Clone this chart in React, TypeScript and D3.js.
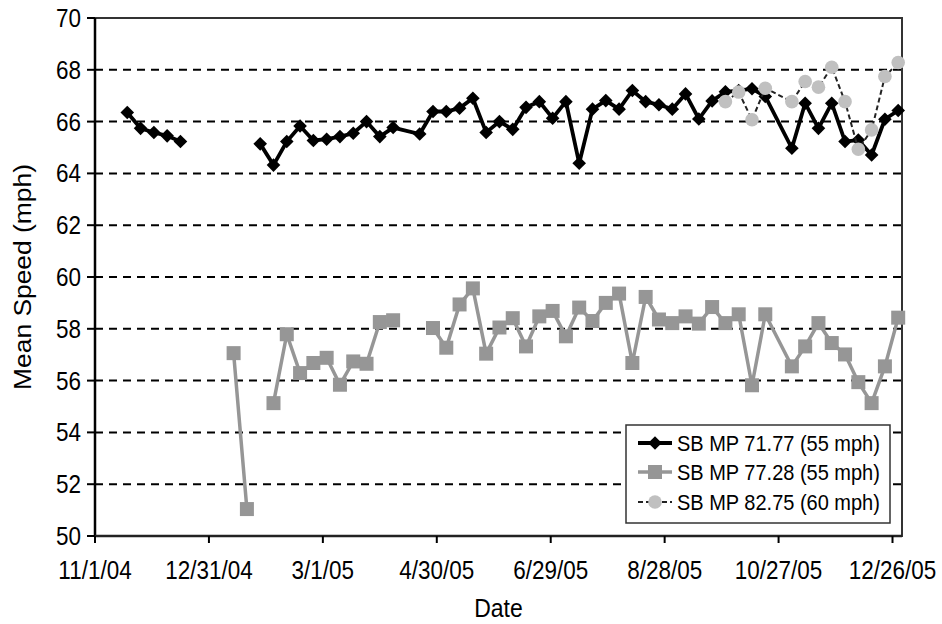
import React from "react";
import * as d3 from "d3";

// Weekly observation dates (rows with at least one reading)
const dates = [
  "11/18/04", "11/25/04", "12/2/04", "12/9/04", "12/16/04",
  "1/13/05", "1/20/05", "1/27/05", "2/3/05", "2/10/05", "2/17/05", "2/24/05",
  "3/3/05", "3/10/05", "3/17/05", "3/24/05", "3/31/05", "4/7/05",
  "4/21/05", "4/28/05", "5/5/05", "5/12/05", "5/19/05", "5/26/05",
  "6/2/05", "6/9/05", "6/16/05", "6/23/05", "6/30/05", "7/7/05", "7/14/05",
  "7/21/05", "7/28/05", "8/4/05", "8/11/05", "8/18/05", "8/25/05", "9/1/05",
  "9/8/05", "9/15/05", "9/22/05", "9/29/05", "10/6/05", "10/13/05", "10/20/05",
  "11/3/05", "11/10/05", "11/17/05", "11/24/05", "12/1/05", "12/8/05",
  "12/15/05", "12/22/05", "12/29/05",
];

// Mean speed (mph) per date; null = no reading (line is broken there)
const mp7177 = [
  66.35, 65.74, 65.58, 65.45, 65.23,
  null, null, 65.14, 64.32, 65.23, 65.83, 65.27,
  65.32, 65.42, 65.55, 66.0, 65.42, 65.77,
  65.52, 66.39, 66.39, 66.52, 66.9, 65.58,
  66.0, 65.7, 66.55, 66.77, 66.13, 66.77, 64.39,
  66.48, 66.81, 66.48, 67.2, 66.77, 66.65, 66.48,
  67.07, 66.1, 66.8, 67.15, 67.2, 67.27, 66.97,
  64.97, 66.71, 65.74, 66.71, 65.23, 65.29,
  64.71, 66.09, 66.43,
];

const mp7728 = [
  null, null, null, null, null,
  57.06, 51.04, null, 55.13, 57.79, 56.29, 56.68,
  56.88, 55.84, 56.74, 56.65, 58.26, 58.33,
  null, 58.03, 57.27, 58.94, 59.56, 57.04,
  58.05, 58.41, 57.32, 58.48, 58.69, 57.71, 58.82,
  58.3, 59.0, 59.36, 56.68, 59.23, 58.36, 58.22,
  58.48, 58.2, 58.84, 58.22, 58.56, 55.82, 58.56,
  56.55, 57.32, 58.22, 57.45, 57.01, 55.94,
  55.13, 56.55, 58.43,
];

const mp8275 = [
  null, null, null, null, null,
  null, null, null, null, null, null, null,
  null, null, null, null, null, null,
  null, null, null, null, null, null,
  null, null, null, null, null, null, null,
  null, null, null, null, null, null, null,
  null, null, null, 66.77, 67.14, 66.07, 67.29,
  66.77, 67.55, 67.33, 68.1, 66.77, 64.93,
  65.68, 67.74, 68.28,
];

const seriesNames = [
  "SB MP 71.77 (55 mph)",
  "SB MP 77.28 (55 mph)",
  "SB MP 82.75 (60 mph)",
];

const xTickLabels = [
  "11/1/04", "12/31/04", "3/1/05", "4/30/05",
  "6/29/05", "8/28/05", "10/27/05", "12/26/05",
];
const yTicks = [50, 52, 54, 56, 58, 60, 62, 64, 66, 68, 70];

const W = 942;
const H = 624;
const margin = { left: 95, right: 40, top: 18, bottom: 88 };
const FONT = "'Liberation Sans', Arial, Helvetica, sans-serif";

const parse = d3.timeParse("%m/%d/%y");

type Pt = { date: Date; v: number | null };

function toPoints(values: (number | null)[]): Pt[] {
  return dates.map((s, i) => ({ date: parse(s) as Date, v: values[i] }));
}

const x = d3
  .scaleTime()
  .domain([parse("11/1/04") as Date, parse("12/31/05") as Date])
  .range([margin.left, W - margin.right]);
const y = d3
  .scaleLinear()
  .domain([50, 70])
  .range([H - margin.bottom, margin.top]);

const line = d3
  .line<Pt>()
  .defined((d) => d.v !== null)
  .x((d) => x(d.date))
  .y((d) => y(d.v as number));

function Diamond({ cx, cy, r, fill }: { cx: number; cy: number; r: number; fill: string }) {
  return (
    <path
      d={`M${cx},${cy - r}L${cx + r},${cy}L${cx},${cy + r}L${cx - r},${cy}Z`}
      fill={fill}
    />
  );
}

function Square({ cx, cy, s, fill }: { cx: number; cy: number; s: number; fill: string }) {
  return <rect x={cx - s / 2} y={cy - s / 2} width={s} height={s} fill={fill} />;
}

export default function App() {
  const s1 = toPoints(mp7177);
  const s2 = toPoints(mp7728);
  const s3 = toPoints(mp8275);
  const x0 = margin.left;
  const x1 = W - margin.right;
  const y0 = H - margin.bottom;
  const y1 = margin.top;

  const legX = 626;
  const legY = 425;
  const legW = 264;
  const legH = 98;
  const rowY = [443, 472, 502];

  return (
    <svg
      width={W}
      height={H}
      style={{ position: "absolute", left: 0, top: 0, background: "#fff" }}
      fontFamily={FONT}
    >
      {/* horizontal dashed gridlines */}
      {yTicks
        .filter((t) => t !== 50 && t !== 70)
        .map((t) => (
          <line
            key={"g" + t}
            x1={x0}
            x2={x1}
            y1={y(t)}
            y2={y(t)}
            stroke="#000"
            strokeWidth={2}
            strokeDasharray="8,6"
          />
        ))}

      {/* plot frame */}
      <rect x={x0} y={y1} width={x1 - x0} height={y0 - y1} fill="none" stroke="#333" strokeWidth={2} />
      <line x1={x0} x2={x0} y1={y1} y2={y0} stroke="#000" strokeWidth={2.5} />
      <line x1={x0} x2={x1} y1={y0} y2={y0} stroke="#222" strokeWidth={2.5} />

      {/* y axis ticks and labels */}
      {yTicks.map((t) => (
        <g key={"y" + t}>
          <line x1={x0 - 8} x2={x0} y1={y(t)} y2={y(t)} stroke="#000" strokeWidth={2} />
          <text
            transform={`translate(${x0 - 14},${y(t)}) scale(1,1.12)`}
            dy="0.36em"
            textAnchor="end"
            fontSize={22.5}
            fill="#000"
          >
            {t}
          </text>
        </g>
      ))}

      {/* x axis ticks and labels */}
      {xTickLabels.map((s) => {
        const px = x(parse(s) as Date);
        return (
          <g key={"x" + s}>
            <line x1={px} x2={px} y1={y0} y2={y0 + 7} stroke="#000" strokeWidth={2} />
            <text
              transform={`translate(${px},${y0 + 43}) scale(1,1.12)`}
              textAnchor="middle"
              fontSize={22.5}
              fill="#000"
            >
              {s}
            </text>
          </g>
        );
      })}

      {/* axis titles */}
      <text
        transform={`translate(${(x0 + x1) / 2},617) scale(1,1.12)`}
        textAnchor="middle"
        fontSize={23}
        fill="#000"
      >
        Date
      </text>
      <text
        transform={`translate(31,${(y0 + y1) / 2}) rotate(-90) scale(1.1,1)`}
        textAnchor="middle"
        fontSize={24}
        fill="#000"
      >
        Mean Speed (mph)
      </text>

      {/* SB MP 71.77 */}
      <path d={line(s1) || ""} fill="none" stroke="#000" strokeWidth={3.8} strokeLinejoin="miter" />
      {s1
        .filter((d) => d.v !== null)
        .map((d, i) => (
          <Diamond key={"d" + i} cx={x(d.date)} cy={y(d.v as number)} r={6.8} fill="#000" />
        ))}

      {/* SB MP 77.28 */}
      <path d={line(s2) || ""} fill="none" stroke="#969696" strokeWidth={3.5} />
      {s2
        .filter((d) => d.v !== null)
        .map((d, i) => (
          <Square key={"s" + i} cx={x(d.date)} cy={y(d.v as number)} s={14} fill="#969696" />
        ))}

      {/* SB MP 82.75 */}
      <path d={line(s3) || ""} fill="none" stroke="#222" strokeWidth={2} strokeDasharray="5,3" />
      {s3
        .filter((d) => d.v !== null)
        .map((d, i) => (
          <circle key={"c" + i} cx={x(d.date)} cy={y(d.v as number)} r={6.8} fill="#c0c0c0" />
        ))}

      {/* legend */}
      <rect x={legX} y={legY} width={legW} height={legH} fill="#fff" stroke="#333" strokeWidth={1.5} />
      {seriesNames.map((name, i) => {
        const cy = rowY[i];
        const lx0 = legX + 12;
        const lx1 = legX + 46;
        const mx = (lx0 + lx1) / 2;
        return (
          <g key={"l" + i}>
            {i === 0 && (
              <>
                <line x1={lx0} x2={lx1} y1={cy} y2={cy} stroke="#000" strokeWidth={3.8} />
                <Diamond cx={mx} cy={cy} r={6.8} fill="#000" />
              </>
            )}
            {i === 1 && (
              <>
                <line x1={lx0} x2={lx1} y1={cy} y2={cy} stroke="#969696" strokeWidth={3.5} />
                <Square cx={mx} cy={cy} s={14} fill="#969696" />
              </>
            )}
            {i === 2 && (
              <>
                <line x1={lx0} x2={lx1} y1={cy} y2={cy} stroke="#222" strokeWidth={2} strokeDasharray="5,3" />
                <circle cx={mx} cy={cy} r={6.8} fill="#c0c0c0" />
              </>
            )}
            <text
              transform={`translate(${legX + 51},${cy}) scale(1,1.08)`}
              dy="0.36em"
              fontSize={20}
              fill="#000"
            >
              {name}
            </text>
          </g>
        );
      })}
    </svg>
  );
}
